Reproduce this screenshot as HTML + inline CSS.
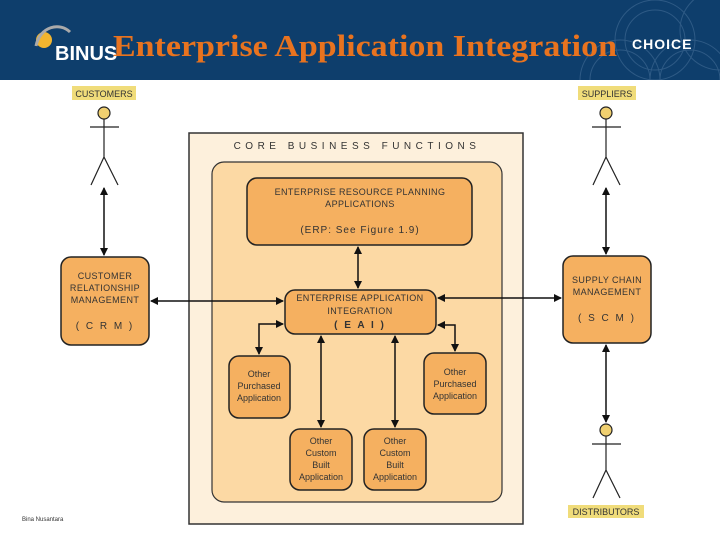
<!DOCTYPE html>
<html><head><style>
body{margin:0;width:720px;height:540px;overflow:hidden;background:#fff;font-family:"Liberation Sans",sans-serif}
</style></head><body>
<svg width="720" height="540" viewBox="0 0 720 540" xmlns="http://www.w3.org/2000/svg" font-family="Liberation Sans, sans-serif">
<defs>
<marker id="a" markerWidth="8" markerHeight="8" refX="7" refY="4" orient="auto-start-reverse" markerUnits="userSpaceOnUse"><path d="M0,0 L8,4 L0,8 z" fill="#111"/></marker>
<clipPath id="h"><rect x="0" y="0" width="720" height="80"/></clipPath>
</defs>
<rect x="0" y="0" width="720" height="80" fill="#0e3e6c"/>
<g stroke="#2e5a85" fill="none" stroke-width="1" clip-path="url(#h)">
<circle cx="620" cy="80" r="40"/><circle cx="620" cy="80" r="30"/><circle cx="690" cy="80" r="40"/><circle cx="690" cy="80" r="30"/><circle cx="655" cy="40" r="40"/><circle cx="655" cy="40" r="30"/><circle cx="720" cy="30" r="40"/>
</g>
<circle cx="44" cy="40" r="8" fill="#f2b52f"/>
<path d="M36,46 C40,26 60,22 70,32" stroke="#aaa" stroke-width="3" fill="none"/>
<text x="55" y="60" font-size="20" font-weight="bold" fill="#fff">BINUS</text>
<text x="632" y="49" font-size="14" font-weight="bold" fill="#fff" letter-spacing="1">CHOICE</text>
<text x="113" y="56" font-size="31" font-weight="bold" fill="#e8731f" textLength="504" lengthAdjust="spacingAndGlyphs" font-family="Liberation Serif, serif">Enterprise Application Integration</text>

<rect x="189" y="133" width="334" height="391" fill="#fdf0dc" stroke="#333" stroke-width="1.5"/>
<text x="357" y="149" font-size="10" text-anchor="middle" letter-spacing="4.5" fill="#333">CORE BUSINESS FUNCTIONS</text>
<rect x="212" y="162" width="290" height="340" rx="12" fill="#fcd9a4" stroke="#333" stroke-width="1.2"/>
<g fill="#f5b060" stroke="#222" stroke-width="1.5">
<rect x="247" y="178" width="225" height="67" rx="10"/>
<rect x="285" y="290" width="151" height="44" rx="10"/>
<rect x="61" y="257" width="88" height="88" rx="10"/>
<rect x="563" y="256" width="88" height="87" rx="10"/>
<rect x="229" y="356" width="61" height="62" rx="10"/>
<rect x="424" y="353" width="62" height="61" rx="10"/>
<rect x="290" y="429" width="62" height="61" rx="10"/>
<rect x="364" y="429" width="62" height="61" rx="10"/>
</g>
<g font-size="9" fill="#333" text-anchor="middle" letter-spacing="0.4">
<text x="360" y="195">ENTERPRISE RESOURCE PLANNING</text>
<text x="360" y="207">APPLICATIONS</text>
<text x="360" y="233" font-size="10" letter-spacing="1">(ERP:    See Figure 1.9)</text>
<text x="360" y="301">ENTERPRISE APPLICATION</text>
<text x="360" y="314">INTEGRATION</text>
<text x="360" y="328" font-size="10" font-weight="bold" letter-spacing="2">( E A I )</text>
<text x="105" y="279">CUSTOMER</text>
<text x="105" y="291">RELATIONSHIP</text>
<text x="105" y="303">MANAGEMENT</text>
<text x="105" y="329" font-size="10" letter-spacing="2">( C R M )</text>
<text x="607" y="283">SUPPLY CHAIN</text>
<text x="607" y="295">MANAGEMENT</text>
<text x="607" y="321" font-size="10" letter-spacing="2">( S C M )</text>
</g>
<g font-size="9" fill="#333" text-anchor="middle">
<text x="259" y="377">Other</text><text x="259" y="389">Purchased</text><text x="259" y="401">Application</text>
<text x="455" y="375">Other</text><text x="455" y="387">Purchased</text><text x="455" y="399">Application</text>
<text x="321" y="444">Other</text><text x="321" y="456">Custom</text><text x="321" y="468">Built</text><text x="321" y="480">Application</text>
<text x="395" y="444">Other</text><text x="395" y="456">Custom</text><text x="395" y="468">Built</text><text x="395" y="480">Application</text>
</g>
<rect x="72" y="86" width="64" height="14" fill="#f0dc7a"/>
<text x="104" y="97" font-size="9" text-anchor="middle" fill="#333">CUSTOMERS</text>
<rect x="578" y="86" width="58" height="14" fill="#f0dc7a"/>
<text x="607" y="97" font-size="9" text-anchor="middle" fill="#333">SUPPLIERS</text>
<rect x="568" y="505" width="76" height="13" fill="#f0dc7a"/>
<text x="606" y="515" font-size="9" text-anchor="middle" fill="#333">DISTRIBUTORS</text>
<g stroke="#222" stroke-width="1.2" fill="#f0d070">
<circle cx="104" cy="113" r="6"/><circle cx="606" cy="113" r="6"/><circle cx="606" cy="430" r="6"/>
</g>
<g stroke="#222" stroke-width="1.2" fill="none">
<path d="M104,119V157M90,127H119M104,157L91,185M104,157L118,185"/>
<path d="M606,119V157M592,127H621M606,157L593,185M606,157L620,185"/>
<path d="M606,436V470M592,444H621M606,470L593,498M606,470L620,498"/>
</g>
<g stroke="#111" stroke-width="1.5" fill="none" marker-start="url(#a)" marker-end="url(#a)">
<line x1="104" y1="188" x2="104" y2="255"/>
<line x1="606" y1="188" x2="606" y2="254"/>
<line x1="606" y1="345" x2="606" y2="422"/>
<line x1="358" y1="247" x2="358" y2="288"/>
<line x1="151" y1="301" x2="283" y2="301"/>
<line x1="438" y1="298" x2="561" y2="298"/>
<path d="M283,324H259V354"/>
<path d="M438,325H455V351"/>
<line x1="321" y1="336" x2="321" y2="427"/>
<line x1="395" y1="336" x2="395" y2="427"/>
</g>
<text x="22" y="521" font-size="6" fill="#333">Bina Nusantara</text>
</svg>
</body></html>
